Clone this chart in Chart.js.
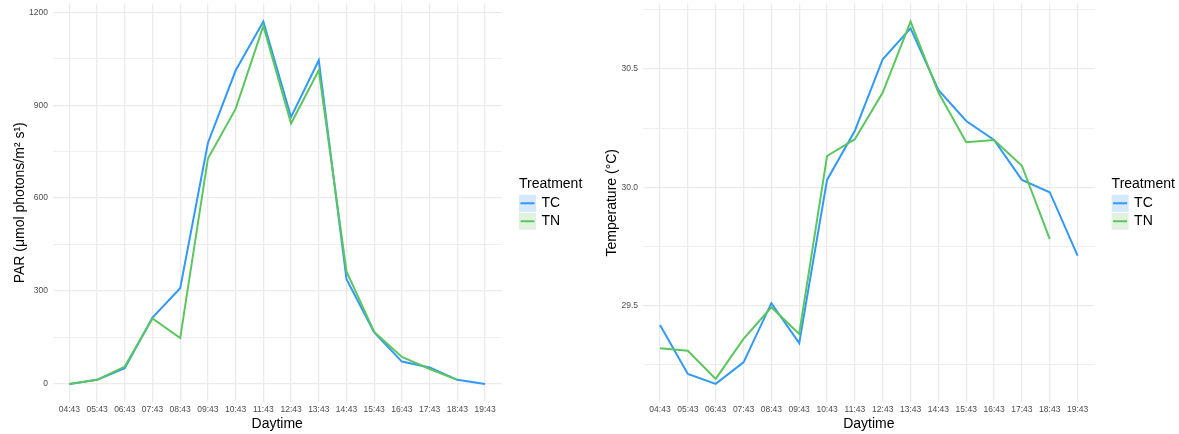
<!DOCTYPE html>
<html>
<head>
<meta charset="utf-8">
<script src="https://cdn.jsdelivr.net/npm/chart.js@4"></script>
<style>
  html, body { margin: 0; padding: 0; background: #fff; }
  #wrap { position: relative; width: 1179px; height: 434px; }
  #parBox { position: absolute; left: 0; top: 0; width: 590px; height: 434px; }
  #tempBox { position: absolute; left: 590px; top: 0; width: 589px; height: 434px; }
</style>
</head>
<body>
<div id="wrap">
  <div id="parBox"><canvas id="parChart" width="590" height="434"></canvas></div>
  <div id="tempBox"><canvas id="tempChart" width="589" height="434"></canvas></div>
</div>
<script>
// Hourly readings
const times = ['04:43', '05:43', '06:43', '07:43', '08:43', '09:43', '10:43', '11:43',
               '12:43', '13:43', '14:43', '15:43', '16:43', '17:43', '18:43', '19:43'];

// PAR (µmol photons/m² s)
const parTC = [0, 13, 51, 214, 309, 778, 1012, 1170, 862, 1045, 338, 166, 72, 53, 13, 0];
const parTN = [0, 13, 56, 211, 148, 728, 888, 1156, 841, 1013, 363, 168, 87, 48, 13, null];

// Temperature (°C)
const tempTC = [29.418, 29.211, 29.169, 29.260, 29.510, 29.341, 30.031, 30.239,
                30.541, 30.672, 30.411, 30.280, 30.200, 30.031, 29.979, 29.711];
const tempTN = [29.320, 29.309, 29.190, 29.359, 29.493, 29.380, 30.132, 30.203,
                30.400, 30.700, 30.400, 30.190, 30.200, 30.091, 29.781, null];

// y-axis ticks: labelled majors and unlabelled minors
const parTicks = [0, 300, 600, 900, 1200];
const parMinor = [150, 450, 750, 1050];
const tempTicks = [29.5, 30.0, 30.5];
const tempMinor = [29.25, 29.75, 30.25, 30.75];

const FONT = "'Liberation Sans', Arial, Helvetica, sans-serif";
const BLUE = '#3399f7';
const GREEN = '#5cc65e';
const BLUE_KEY = '#d5e8fc';
const GREEN_KEY = '#e1f3df';
const GRID = '#ebebeb';
const GRID_MINOR = '#efefef';

Chart.defaults.font.family = FONT;
Chart.defaults.animation = false;

// ggplot-style legend to the right of the panel
const treatmentLegend = {
  id: 'treatmentLegend',
  afterDraw(chart) {
    const { ctx, chartArea } = chart;
    const x = chartArea.right + 17.3;
    const cy = (chartArea.top + chartArea.bottom) / 2;
    ctx.save();
    ctx.font = '14px ' + FONT;
    ctx.fillStyle = '#000';
    ctx.textAlign = 'left';
    ctx.textBaseline = 'middle';
    ctx.fillText('Treatment', x, cy - 19);
    chart.data.datasets.forEach((ds, i) => {
      const rowY = cy + 0.5 + i * 18;
      ctx.fillStyle = ds.keyFill;
      ctx.fillRect(x, rowY - 8.5, 17, 17);
      ctx.strokeStyle = ds.borderColor;
      ctx.lineWidth = 2;
      ctx.beginPath();
      ctx.moveTo(x + 1.5, rowY);
      ctx.lineTo(x + 15.5, rowY);
      ctx.stroke();
      ctx.fillStyle = '#000';
      ctx.fillText(ds.label, x + 22.5, rowY);
    });
    ctx.restore();
  }
};

function toPoints(values) {
  return values.map((v, i) => ({ x: i, y: v }));
}

function makeChart(canvasId, opts) {
  const all = opts.tc.concat(opts.tn).filter(v => v !== null);
  const lo = Math.min(...all);
  const hi = Math.max(...all);
  const pad = (hi - lo) * 0.05;
  const yGrid = opts.major.concat(opts.minor).sort((a, b) => a - b);

  return new Chart(document.getElementById(canvasId), {
    type: 'line',
    data: {
      datasets: [
        { label: 'TC', data: toPoints(opts.tc), borderColor: BLUE, keyFill: BLUE_KEY,
          borderWidth: 2, pointRadius: 0, tension: 0, order: 1 },
        { label: 'TN', data: toPoints(opts.tn), borderColor: GREEN, keyFill: GREEN_KEY,
          borderWidth: 2, pointRadius: 0, tension: 0, order: 0 }
      ]
    },
    options: {
      responsive: false,
      layout: { padding: { left: 0, right: opts.padRight, top: 3.5, bottom: 0 } },
      plugins: { legend: { display: false }, tooltip: { enabled: false } },
      scales: {
        x: {
          type: 'linear',
          min: -0.6,
          max: times.length - 1 + 0.6,
          afterBuildTicks: scale => { scale.ticks = times.map((_, i) => ({ value: i })); },
          afterFit: scale => {
            scale.height = 32;
            scale.paddingLeft = 0;
            scale.paddingRight = 0;
          },
          border: { display: false },
          grid: { color: GRID, lineWidth: 1.3, drawTicks: false },
          ticks: {
            autoSkip: false, maxRotation: 0, padding: 3,
            color: '#4d4d4d', font: { size: 8.5 },
            callback: v => times[v]
          },
          title: {
            display: true, text: 'Daytime', color: '#000',
            font: { size: 14 }, padding: { top: 0, bottom: 1.6 }
          }
        },
        y: {
          min: lo - pad,
          max: hi + pad,
          afterBuildTicks: scale => { scale.ticks = yGrid.map(v => ({ value: v })); },
          afterFit: scale => {
            scale.width = opts.axisWidth;
            scale.paddingTop = 0;
            scale.paddingBottom = 0;
          },
          border: { display: false },
          grid: {
            drawTicks: false,
            color: c => opts.major.includes(c.tick.value) ? GRID : GRID_MINOR,
            lineWidth: c => opts.major.includes(c.tick.value) ? 1.3 : 1
          },
          ticks: {
            padding: opts.tickPad, color: '#4d4d4d', font: { size: 8.5 },
            callback: v => opts.major.includes(v) ? opts.format(v) : ''
          },
          title: {
            display: true, text: opts.yTitle, color: '#000',
            font: { size: 14 }, padding: { top: opts.titlePad, bottom: 0 }
          }
        }
      }
    },
    plugins: [treatmentLegend]
  });
}

makeChart('parChart', {
  tc: parTC, tn: parTN,
  major: parTicks, minor: parMinor,
  format: v => String(v),
  yTitle: 'PAR (μmol photons/m² s¹)',
  axisWidth: 52.7, tickPad: 4.7, titlePad: 11.6, padRight: 88.3
});

makeChart('tempChart', {
  tc: tempTC, tn: tempTN,
  major: tempTicks, minor: tempMinor,
  format: v => v.toFixed(1),
  yTitle: 'Temperature (°C)',
  axisWidth: 53.3, tickPad: 5.3, titlePad: 13.4, padRight: 84.7
});
</script>
</body>
</html>
